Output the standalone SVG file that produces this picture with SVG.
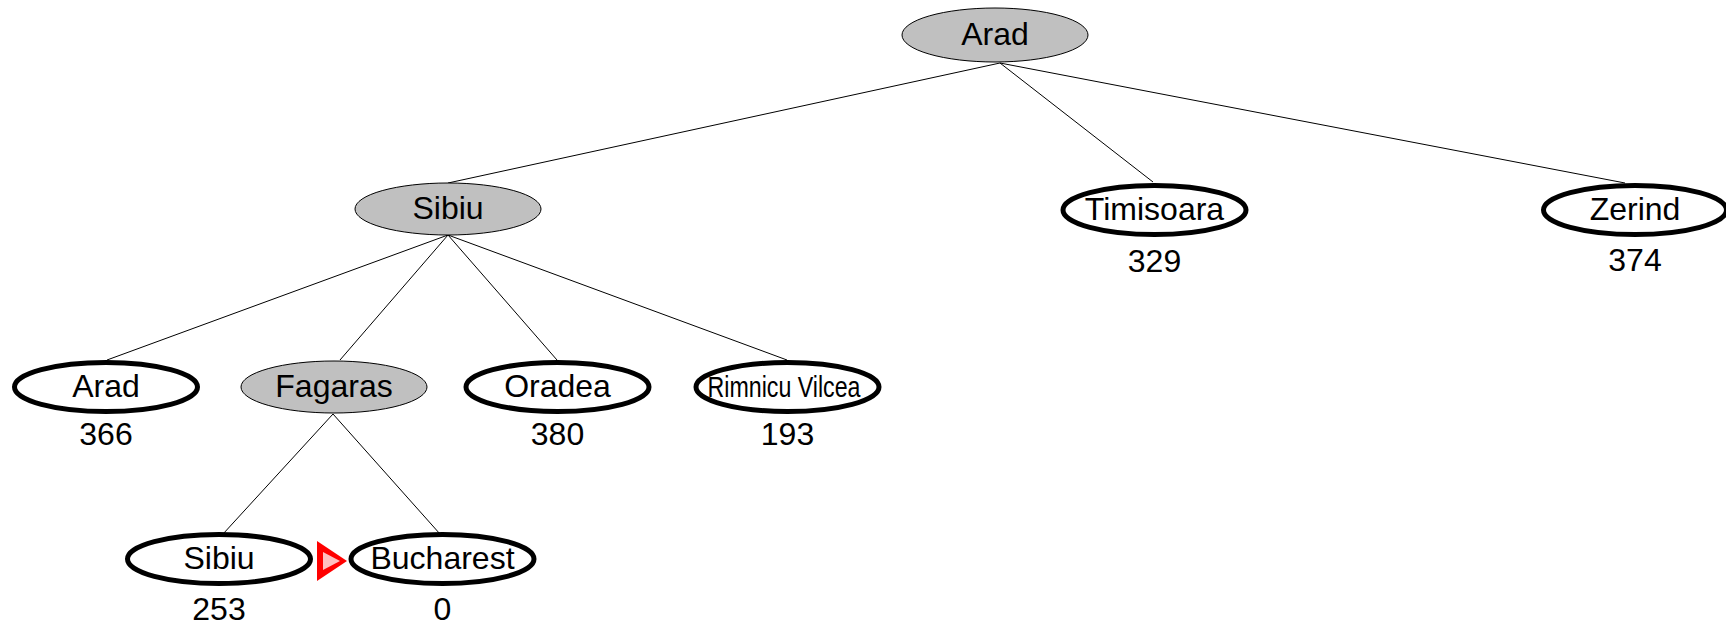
<svg xmlns="http://www.w3.org/2000/svg" width="1726" height="625" viewBox="0 0 1726 625">
<style>
.bg{fill:#ffffff}
.exp{fill:#c0c0c0;stroke:#000;stroke-width:1}
.fr{fill:#ffffff;stroke:#000;stroke-width:5}
.lbl{font-family:"Liberation Sans",Arial,sans-serif;font-size:32px;fill:#000;text-anchor:middle}
.edge{stroke:#000;stroke-width:1;fill:none}
</style>
<rect class="bg" x="0" y="0" width="1726" height="625"/>
<g id="connectors">
<line class="edge" x1="1000" y1="63" x2="448" y2="183"/>
<line class="edge" x1="1000" y1="63" x2="1153" y2="182"/>
<line class="edge" x1="1000" y1="63" x2="1625" y2="183"/>
<line class="edge" x1="448" y1="235" x2="107" y2="360"/>
<line class="edge" x1="448" y1="235" x2="340" y2="360"/>
<line class="edge" x1="448" y1="235" x2="557" y2="360"/>
<line class="edge" x1="448" y1="235" x2="787" y2="360"/>
<line class="edge" x1="333" y1="414" x2="223" y2="534"/>
<line class="edge" x1="333" y1="414" x2="440" y2="534"/>
</g>
<g id="n-arad-root"><ellipse class="exp" cx="995" cy="35" rx="93" ry="27"/><text class="lbl" x="995" y="45">Arad</text></g>
<g id="n-sibiu-1"><ellipse class="exp" cx="448" cy="209" rx="93" ry="26"/><text class="lbl" x="448" y="219">Sibiu</text></g>
<g id="n-timisoara"><ellipse class="fr" cx="1154.5" cy="210" rx="91.5" ry="24.5"/><text class="lbl" x="1154.5" y="220">Timisoara</text><text class="lbl" x="1154.5" y="272">329</text></g>
<g id="n-zerind"><ellipse class="fr" cx="1635" cy="210" rx="91.5" ry="24.5"/><text class="lbl" x="1635" y="220">Zerind</text><text class="lbl" x="1635" y="271">374</text></g>
<g id="n-arad-2"><ellipse class="fr" cx="106" cy="387" rx="91.5" ry="24.5"/><text class="lbl" x="106" y="397">Arad</text><text class="lbl" x="106" y="445">366</text></g>
<g id="n-fagaras"><ellipse class="exp" cx="334" cy="387" rx="93" ry="26"/><text class="lbl" x="334" y="397">Fagaras</text></g>
<g id="n-oradea"><ellipse class="fr" cx="557.5" cy="387" rx="91.5" ry="24.5"/><text class="lbl" x="557.5" y="397">Oradea</text><text class="lbl" x="557.5" y="445">380</text></g>
<g id="n-rimnicu"><ellipse class="fr" cx="787.5" cy="387" rx="91.5" ry="24.5"/><text class="lbl" x="784" y="397" style="font-size:30px" textLength="153" lengthAdjust="spacingAndGlyphs">Rimnicu Vilcea</text><text class="lbl" x="787.5" y="445">193</text></g>
<g id="n-sibiu-3"><ellipse class="fr" cx="219" cy="559" rx="91.5" ry="24.5"/><text class="lbl" x="219" y="569">Sibiu</text><text class="lbl" x="219" y="620">253</text></g>
<g id="n-bucharest"><ellipse class="fr" cx="442.5" cy="559" rx="91.5" ry="24.5"/><text class="lbl" x="442.5" y="569">Bucharest</text><text class="lbl" x="442.5" y="620">0</text></g>
<g id="goal-marker">
<polygon points="317,541 317,581 347,561" fill="#ff0000"/>
<polygon points="323,552 323,570 340,561" fill="#ffc0c0"/>
</g>
</svg>
